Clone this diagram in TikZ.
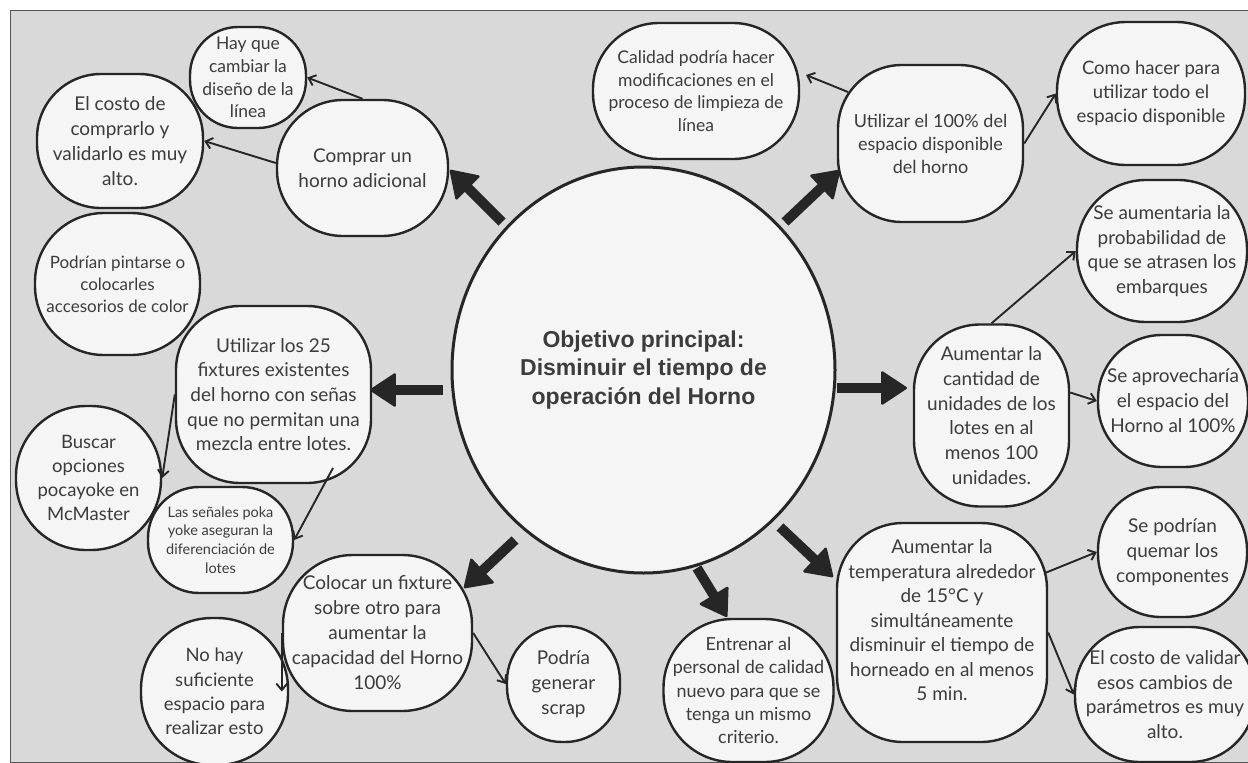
\documentclass[tikz,border=0pt]{standalone}
\usepackage{fontspec}
\setmainfont{Lato}
\newfontfamily\titlefont{Liberation Sans}
\usetikzlibrary{arrows.meta,calc,shapes.geometric}
\definecolor{canvas}{HTML}{D9D9D9}
\definecolor{frameline}{HTML}{555555}
\definecolor{ink}{HTML}{262626}
\definecolor{paper}{HTML}{F5F5F5}
\definecolor{words}{HTML}{3C3C3C}
\tikzset{
  bubble/.style={draw=ink, fill=paper, line width=2.4pt, rectangle, align=center, inner sep=0pt, text=words},
  sz/.style 2 args={font=\fontsize{#1}{#2}\selectfont},
  box/.style n args={3}{minimum width=#1, minimum height=#2, rounded corners=#3},
  link/.style={draw=ink, line width=1.9pt, -{Straight Barb[length=6.5pt,width=11pt]}},
  push/.style={draw=ink, line width=10pt, -{Triangle[length=27pt,width=35pt,line width=2.5pt,round]}},
}
\begin{document}
\begin{tikzpicture}[x=1pt,y=-1pt]
\useasboundingbox (0,0) rectangle (1248,763);
\clip (0,0) rectangle (1248,763);
\fill[white] (0,0) rectangle (1248,763);
\draw[draw=frameline, fill=canvas, line width=1pt] (10,10) rectangle (1262,762);

% central goal
\node[draw=ink, fill=paper, line width=3pt, ellipse, minimum width=383pt, minimum height=406pt,
      inner sep=0pt, align=center, text=words, font=\titlefont\bfseries\fontsize{23}{28.5}\selectfont]
  (main) at (643.5,370) {Objetivo principal:\\Disminuir el tiempo de\\operación del Horno};

% ideas and consequences
\node[bubble, box={116pt}{101pt}{48pt}, sz={17.5}{22.7}] (hayque) at (248,77.5) {Hay que\\cambiar la\\diseño de la\\línea};
\node[bubble, box={166pt}{134pt}{64pt}, sz={19}{25}] (costo1) at (120,141) {El costo de\\comprarlo y\\validarlo es muy\\alto.};
\node[bubble, box={171pt}{136pt}{66pt}, sz={19}{25}] (comprar) at (362.5,168) {Comprar un\\horno adicional};
\node[bubble, box={206pt}{136pt}{66pt}, sz={17.5}{22.7}] (calidad) at (696,91) {Calidad podría hacer\\modificaciones en el\\proceso de limpieza de\\línea};
\node[bubble, box={185pt}{157pt}{64pt}, sz={18}{23}] (util100) at (930.5,143.5) {Utilizar el 100\% del\\espacio disponible\\del horno};
\node[bubble, box={188pt}{143pt}{69pt}, sz={18.5}{24}] (comohacer) at (1151,93.5) {Como hacer para\\utilizar todo el\\espacio disponible};
\node[bubble, box={170pt}{142pt}{69pt}, sz={19}{24.7}] (seaument) at (1162,251) {Se aumentaria la\\probabilidad de\\que se atrasen los\\embarques};
\node[bubble, box={155pt}{182pt}{66pt}, sz={19}{24.8}] (cantidad) at (991.5,415.5) {Aumentar la\\cantidad de\\unidades de los\\lotes en al\\menos 100\\unidades.};
\node[bubble, box={150pt}{132pt}{64pt}, sz={19}{25}] (seaprov) at (1173,401) {Se aprovecharía\\el espacio del\\Horno al 100\%};
\node[bubble, box={165pt}{142pt}{69pt}, sz={17}{22}] (podrian) at (117.5,284) {Podrían pintarse o\\colocarles\\accesorios de color};
\node[bubble, box={195pt}{177pt}{64pt}, sz={19}{24.7}] (util25) at (273.5,394.5) {Utilizar los 25\\fixtures existentes\\del horno con señas\\que no permitan una\\mezcla entre lotes.};
\node[bubble, box={145pt}{144pt}{70pt}, sz={18.5}{24}] (buscar) at (88.5,478) {Buscar\\opciones\\pocayoke en\\McMaster};
\node[bubble, box={145pt}{106pt}{51pt}, sz={14.5}{18.7}] (senales) at (220.5,540) {Las señales poka\\yoke aseguran la\\diferenciación de\\lotes};
\node[bubble, box={189pt}{156pt}{70pt}, sz={19}{25}] (colocar) at (377.5,633) {Colocar un fixture\\sobre otro para\\aumentar la\\capacidad del Horno\\100\%};
\node[bubble, box={147pt}{147pt}{71pt}, sz={18.5}{24.3}] (nohay) at (214.5,691.5) {No hay\\suficiente\\espacio para\\realizar esto};
\node[bubble, box={113pt}{116pt}{55pt}, sz={19}{25}] (podria) at (563.5,684) {Podría\\generar\\scrap};
\node[bubble, box={170pt}{143pt}{69pt}, sz={18}{23.3}] (entrenar) at (748.5,690.5) {Entrenar al\\personal de calidad\\nuevo para que se\\tenga un mismo\\criterio.};
\node[bubble, box={210pt}{219pt}{66pt}, sz={19}{24.5}] (temper) at (942,632.5) {Aumentar la\\temperatura alrededor\\de 15°C y\\simultáneamente\\disminuir el tiempo de\\horneado en al menos\\5 min.\\\mbox{}};
\node[bubble, box={149pt}{130pt}{63pt}, sz={19}{25}] (sepodrian) at (1172.5,552) {Se podrían\\quemar los\\componentes};
\node[bubble, box={180pt}{135pt}{65pt}, sz={19}{24.7}] (costo2) at (1165,694.5) {El costo de validar\\esos cambios de\\parámetros es muy\\alto.};

% thin connectors
\draw[link] (comprar.north) -- (hayque.east);
\draw[link] ($(comprar.west)+(0,-5)$) -- (costo1.east);
\draw[link] ($(util100.center)+(-82.5,-51.5)$) -- ($(calidad.center)+(110,-16)$);
\draw[link] (util100.east) -- (comohacer.west);
\draw[link] (cantidad.north) -- (seaument.west);
\draw[link] ($(cantidad.east)+(0,-23)$) -- (seaprov.west);
\draw[link] ($(temper.center)+(103,-59.5)$) -- (sepodrian.west);
\draw[link] (temper.east) -- (costo2.west);
\draw[link] (util25.west) -- (buscar.east);
\draw[link] ($(util25.center)+(59.5,73.5)$) -- (senales.east);
\draw[link] (colocar.west) -- (colocar.west |- nohay.east);
\draw[link] (colocar.east) -- (podria.west);

% thick arrows from the goal
\draw[push] ($(main.center)+(-141.5,-148)$) -- ($(comprar.center)+(87.5,2)$);
\draw[push] ($(main.center)+(141.5,-148)$) -- ($(util100.center)+(-90.5,26.5)$);
\draw[push] ($(main.center)+(-200.5,20)$) -- ($(util25.center)+(96.5,-4.5)$);
\draw[push] ($(main.center)+(193.5,18)$) -- ($(cantidad.center)+(-84.5,-27.5)$);
\draw[push] ($(main.center)+(-128.5,170)$) -- ($(colocar.center)+(86.5,-45)$);
\draw[push] ($(main.center)+(53.5,198)$) -- ($(entrenar.center)+(-21.5,-73.5)$);
\draw[push] ($(main.center)+(136.5,157)$) -- ($(temper.center)+(-109,-55.5)$);
\end{tikzpicture}
\end{document}
